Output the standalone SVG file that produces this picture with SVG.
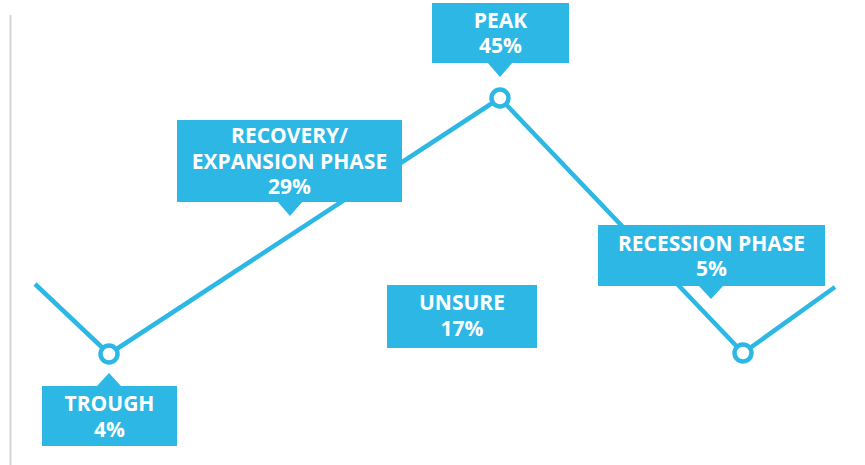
<svg xmlns="http://www.w3.org/2000/svg" width="865" height="465" viewBox="0 0 865 465">
<style>
.box{fill:#2cb7e5}
.lbl{font-family:"Open Sans","Noto Sans",sans-serif;font-weight:bold;font-size:21px;fill:#ffffff;text-anchor:middle}
.ln{stroke:#2cb7e5;stroke-width:4.5;fill:none;stroke-linejoin:round}
.pt{fill:#ffffff;stroke:#2cb7e5;stroke-width:4.5}
</style>
<rect width="865" height="465" fill="#ffffff"/>
<line x1="10.5" y1="15" x2="10.5" y2="465" stroke="#d3d3d3" stroke-width="2"/>
<g id="connectors">
<polyline class="ln" points="35,284 109,354 500,98 743,353 835,287"/>
</g>
<g id="trough">
<rect class="box" x="42" y="386" width="135" height="60"/>
<polygon class="box" points="97,386 121,386 109,373"/>
<text class="lbl" x="109.5" y="411">TROUGH</text>
<text class="lbl" x="109.5" y="437">4%</text>
</g>
<g id="recovery">
<rect class="box" x="177" y="120" width="225" height="82"/>
<polygon class="box" points="277,201 303,201 290,216"/>
<text class="lbl" x="289.5" y="143">RECOVERY/</text>
<text class="lbl" x="289.5" y="169">EXPANSION PHASE</text>
<text class="lbl" x="289.5" y="194">29%</text>
</g>
<g id="peak">
<rect class="box" x="432" y="3" width="137" height="60"/>
<polygon class="box" points="487,62 513,62 500,77"/>
<text class="lbl" x="500.5" y="28">PEAK</text>
<text class="lbl" x="500.5" y="53">45%</text>
</g>
<g id="recession">
<rect class="box" x="598" y="225" width="227" height="61"/>
<polygon class="box" points="698,285 724,285 711,299"/>
<text class="lbl" x="711.5" y="251">RECESSION PHASE</text>
<text class="lbl" x="711.5" y="276">5%</text>
</g>
<g id="unsure">
<rect class="box" x="387" y="285" width="150" height="63"/>
<text class="lbl" x="462" y="310">UNSURE</text>
<text class="lbl" x="462" y="336">17%</text>
</g>
<g id="points">
<circle class="pt" cx="109" cy="354" r="8.5"/>
<circle class="pt" cx="500" cy="98" r="8.5"/>
<circle class="pt" cx="743" cy="353" r="8.5"/>
</g>
</svg>
